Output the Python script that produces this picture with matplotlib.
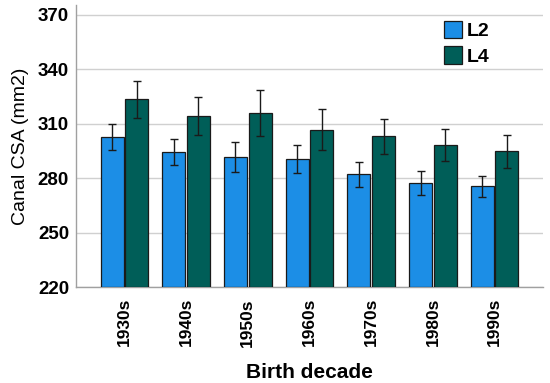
import matplotlib
matplotlib.use("Agg")
import matplotlib.pyplot as plt
import numpy as np

plt.rcParams['font.family'] = ['Liberation Sans', 'DejaVu Sans']

decades = ["1930s", "1940s", "1950s", "1960s", "1970s", "1980s", "1990s"]
l2_mean = [302.9, 294.4, 291.9, 290.4, 282.3, 277.5, 275.5]
l2_low = [295.5, 287.3, 283.2, 282.9, 275.3, 270.9, 269.4]
l2_high = [310.0, 301.6, 300.1, 298.1, 288.9, 283.8, 281.4]
l4_mean = [323.5, 314.3, 315.8, 306.8, 303.1, 298.3, 294.8]
l4_low = [313.2, 303.8, 303.1, 295.4, 293.2, 289.6, 285.8]
l4_high = [333.8, 324.8, 328.8, 318.2, 312.6, 307.0, 303.6]
yticks = [220, 250, 280, 310, 340, 370]

fig = plt.figure(figsize=(5.5, 3.83), dpi=100)
ax = fig.add_axes([76/550, 1-287/383, (543-76)/550, (287-5)/383])

x = np.arange(len(decades))
w = 0.375
off = 0.2
c2 = "#1C8EE6"
c4 = "#005E58"
base = 220

def draw(xs, mean, low, high, color, label):
    m = np.array(mean)
    ax.bar(xs, m - base, w, bottom=base, color=color, edgecolor="#1a1a1a",
           linewidth=0.9, label=label, zorder=3)
    err = [m - np.array(low), np.array(high) - m]
    ax.errorbar(xs, m, yerr=err, fmt="none", ecolor="#1a1a1a", elinewidth=1.0,
                capsize=3, capthick=1.0, zorder=4)

draw(x - off, l2_mean, l2_low, l2_high, c2, "L2")
draw(x + off, l4_mean, l4_low, l4_high, c4, "L4")

ax.set_xlim(-0.785, 6.785)
ax.set_ylim(220, 375.5)
ax.set_yticks(yticks)
ax.set_yticklabels([str(t) for t in yticks], fontsize=13.5, fontweight="bold")
ax.set_xticks(x)
ax.set_xticklabels(decades, rotation=90, fontsize=12.5, fontweight="bold")
ax.tick_params(axis="x", length=0, pad=8)
ax.tick_params(axis="y", length=0, pad=5)
ax.yaxis.grid(True, color="#d0d0d0", linewidth=1.0, zorder=0)
ax.set_axisbelow(True)
for s in ["top", "right"]:
    ax.spines[s].set_visible(False)
for s in ["left", "bottom"]:
    ax.spines[s].set_color("#a0a0a0")
    ax.spines[s].set_linewidth(1.0)

ax.set_ylabel("Canal CSA (mm2)", fontsize=14, labelpad=6)
ax.set_xlabel("Birth decade", fontsize=15, fontweight="bold", labelpad=12)

leg = ax.legend(loc="upper left", bbox_to_anchor=(0.75, 1.005), frameon=False,
                prop={"weight": "bold", "size": 14}, handlelength=0.95,
                handleheight=1.0, handletextpad=0.25, labelspacing=0.3)

fig.savefig("out.png", dpi=100)
